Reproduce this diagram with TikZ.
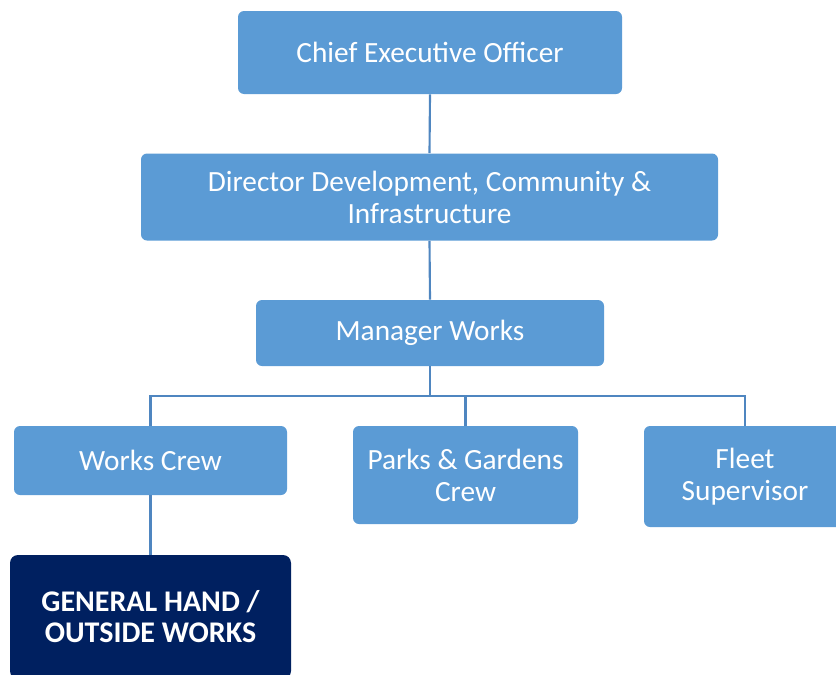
\documentclass[tikz,border=0pt]{standalone}
\usepackage{fontspec}
\setmainfont{Carlito}
\definecolor{boxblue}{HTML}{5B9BD5}
\definecolor{lineblue}{HTML}{4F86C0}
\definecolor{navy}{HTML}{002060}
\begin{document}
\begin{tikzpicture}[x=0.75pt,y=-0.75pt,
  orgbox/.style={fill=boxblue, draw=none, rounded corners=4.5pt, text=white,
    font=\fontsize{22}{24}\selectfont, align=center, inner sep=0pt},
  darkbox/.style={fill=navy, draw=none, rounded corners=6pt, text=white,
    font=\fontsize{22.5}{23.3}\selectfont\bfseries, align=center, inner sep=0pt},
  link/.style={draw=lineblue, line width=1.6pt}]
\useasboundingbox (0,0) rectangle (836,675);
\node[orgbox, minimum width=384*0.75pt, minimum height=83*0.75pt] (ceo) at (430,52.5) {Chief Executive Officer};
\node[orgbox, minimum width=577*0.75pt, minimum height=87*0.75pt] (dir) at (429.5,197) {Director Development, Community \&\\Infrastructure};
\node[orgbox, minimum width=348*0.75pt, minimum height=66*0.75pt] (mgr) at (430,333) {Manager Works};
\node[orgbox, minimum width=273*0.75pt, minimum height=69*0.75pt] (wc) at (150.5,460.5) {Works Crew};
\node[orgbox, minimum width=225*0.75pt, minimum height=98*0.75pt] (pg) at (465.5,475) {Parks \& Gardens\\Crew};
\node[orgbox, minimum width=202*0.75pt, minimum height=101*0.75pt] (fl) at (745,476.5) {Fleet\\Supervisor};
\node[darkbox, minimum width=281*0.75pt, minimum height=124*0.75pt] (gh) at (150.5,617) {GENERAL HAND /\\OUTSIDE WORKS};
\coordinate (bus) at (430,396);
\draw[link] (ceo.south) -- (dir.north);
\draw[link] (dir.south) -- (mgr.north);
\draw[link] (mgr.south) -- (bus);
\draw[link] (wc.north) |- (bus) -| (fl.north);
\draw[link] (pg.north) -- (pg.north |- bus);
\draw[link] (wc.south) -- (gh.north);
\end{tikzpicture}
\end{document}
